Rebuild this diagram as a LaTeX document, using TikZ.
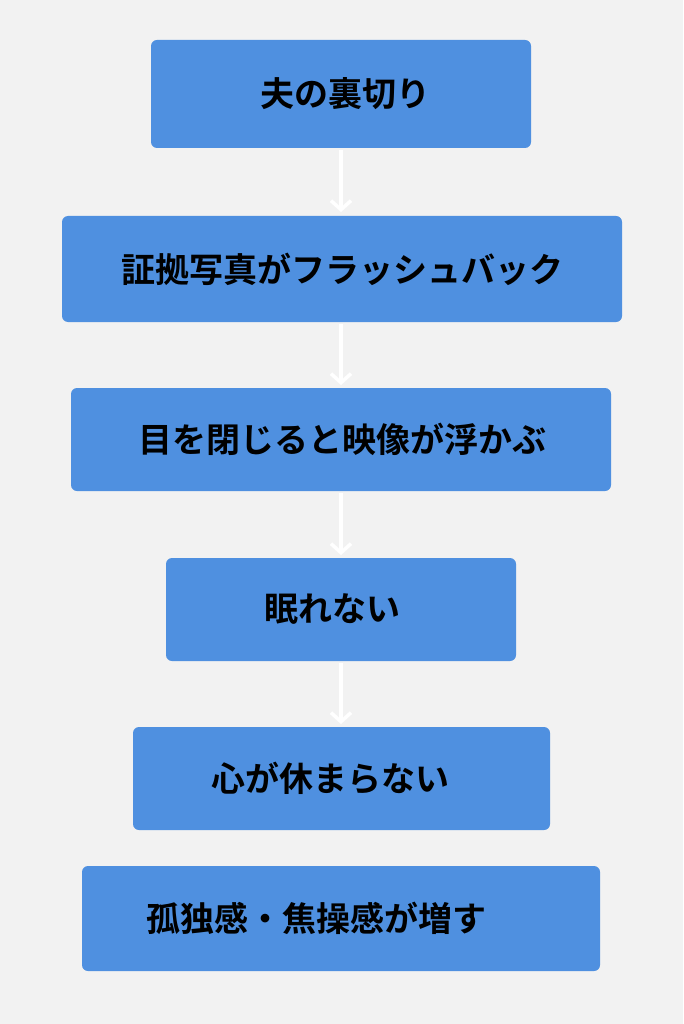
\documentclass[tikz,border=0pt]{standalone}
\usepackage{fontspec}
\newfontfamily\cjk{Noto Sans CJK JP}[BoldFont={Noto Sans CJK JP Bold}]
\definecolor{bg}{HTML}{F2F2F2}
\definecolor{boxc}{HTML}{4F90E0}
\begin{document}
\begin{tikzpicture}[x=1pt,y=-1pt,
  stepbox/.style={fill=boxc,rounded corners=6pt},
  lbl/.style={font=\cjk\bfseries\fontsize{34}{40}\selectfont,text=black},
  arr/.style={draw=white,line width=4pt,-{Straight Barb[length=9pt,width=20pt,line width=3.5pt]}}]
\usetikzlibrary{arrows.meta}
\fill[bg] (0,0) rectangle (683,1024);
\useasboundingbox (0,0) rectangle (683,1024);
\fill[stepbox] (151,40) rectangle (531,148);
\fill[stepbox] (62,216) rectangle (622,322);
\fill[stepbox] (71,388) rectangle (611,491);
\fill[stepbox] (166,558) rectangle (516,661);
\fill[stepbox] (133,727) rectangle (550,830);
\fill[stepbox] (82,866) rectangle (600,971);
\node[lbl] (t1) at (345,94) {夫の裏切り};
\node[lbl] (t2) at (342,269) {証拠写真がフラッシュバック};
\node[lbl] (t3) at (342,439) {目を閉じると映像が浮かぶ};
\node[lbl] (t4) at (332,609) {眠れない};
\node[lbl] (t5) at (330,778) {心が休まらない};
\node[lbl] (t6) at (316,918) {孤独感・焦操感が増す};
\coordinate (a1) at (341,150); \coordinate (b1) at (341,212);
\coordinate (a2) at (341,324); \coordinate (b2) at (341,385);
\coordinate (a3) at (341,493); \coordinate (b3) at (341,555);
\coordinate (a4) at (341,663); \coordinate (b4) at (341,724);
\draw[arr] (a1) -- (b1);
\draw[arr] (a2) -- (b2);
\draw[arr] (a3) -- (b3);
\draw[arr] (a4) -- (b4);
\end{tikzpicture}
\end{document}
